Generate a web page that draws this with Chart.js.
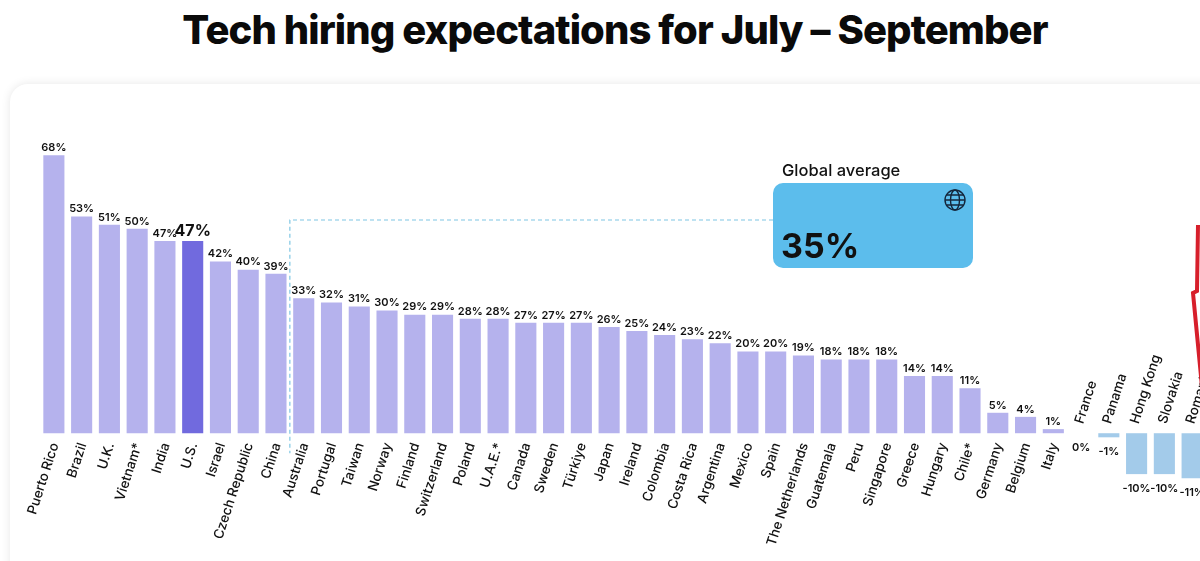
<!DOCTYPE html>
<html>
<head>
<meta charset="utf-8">
<script src="https://cdn.jsdelivr.net/npm/chart.js@4.4.1/dist/chart.umd.min.js"></script>
<style>
    html, body {
        margin: 0;
        padding: 0;
        width: 1200px;
        height: 561px;
        overflow: hidden;
        background: #ffffff;
        font-family: Inter, "Noto Sans", sans-serif;
    }
    h1 {
        position: absolute;
        top: 5px;
        left: 0;
        width: 1230px;
        margin: 0;
        text-align: center;
        font-size: 40px;
        font-weight: 800;
        letter-spacing: -0.9px;
        color: #0a0a0a;
    }
    .card {
        position: absolute;
        left: 10px;
        top: 84px;
        width: 1320px;
        height: 600px;
        background: #ffffff;
        border-radius: 18px;
        box-shadow: 0 0 10px rgba(0, 0, 0, 0.10);
    }
    .chart-wrap {
        position: absolute;
        left: 0;
        top: 85px;
        width: 1240px;
        height: 476px;
    }
</style>
</head>
<body>
<h1>Tech hiring expectations for July – September</h1>
<div class="card"></div>
<div class="chart-wrap"><canvas id="hiringChart"></canvas></div>

<script>
const countries = [
    'Puerto Rico', 'Brazil', 'U.K.', 'Vietnam*', 'India', 'U.S.', 'Israel', 'Czech Republic', 'China',
    'Australia', 'Portugal', 'Taiwan', 'Norway', 'Finland', 'Switzerland', 'Poland', 'U.A.E.*',
    'Canada', 'Sweden', 'Türkiye', 'Japan', 'Ireland', 'Colombia', 'Costa Rica', 'Argentina',
    'Mexico', 'Spain', 'The Netherlands', 'Guatemala', 'Peru', 'Singapore', 'Greece', 'Hungary',
    'Chile*', 'Germany', 'Belgium', 'Italy', 'France', 'Panama', 'Hong Kong', 'Slovakia', 'Romania'
];
const hiringValues = [
    68, 53, 51, 50, 47, 47, 42, 40, 39,
    33, 32, 31, 30, 29, 29, 28, 28,
    27, 27, 27, 26, 25, 24, 23, 22,
    20, 20, 19, 18, 18, 18, 14, 14,
    11, 5, 4, 1, 0, -1, -10, -10, -11
];
const globalAverage = 35;
const highlightCountry = 'U.S.';
const yMin = -20;
const yMax = 70;

const positiveColor = '#b5b2ed';
const highlightColor = '#716ade';
const negativeColor = '#a3cbea';

const barColors = countries.map((c, i) => {
    if (c === highlightCountry) return highlightColor;
    return hiringValues[i] < 0 ? negativeColor : positiveColor;
});

// labels, values and the global average box
const annotationPlugin = {
    id: 'annotations',
    afterDatasetsDraw(chart) {
        const ctx = chart.ctx;
        const xScale = chart.scales.x;
        const yScale = chart.scales.y;
        const zeroY = yScale.getPixelForValue(0);
        const meta = chart.getDatasetMeta(0);

        ctx.save();

        // dashed divider between above / below average
        const aboveAvg = hiringValues.filter(v => v > globalAverage).length;
        const divX = (xScale.getPixelForValue(aboveAvg - 1) + xScale.getPixelForValue(aboveAvg)) / 2;
        const boxLeft = 773, boxTop = 98, boxW = 200, boxH = 85;
        const lineY = 135;
        ctx.setLineDash([4, 3]);
        ctx.strokeStyle = '#7fc6e3';
        ctx.lineWidth = 1.2;
        ctx.beginPath();
        ctx.moveTo(boxLeft, lineY);
        ctx.lineTo(divX, lineY);
        ctx.lineTo(divX, zeroY + 20);
        ctx.stroke();
        ctx.setLineDash([]);

        // global average box
        ctx.fillStyle = '#5cbdec';
        ctx.beginPath();
        ctx.roundRect(boxLeft, boxTop, boxW, boxH, 10);
        ctx.fill();

        ctx.fillStyle = '#111111';
        ctx.textAlign = 'left';
        ctx.textBaseline = 'alphabetic';
        ctx.font = '500 16.5px Inter';
        ctx.fillText('Global average', boxLeft + 9, boxTop - 7);
        ctx.font = '700 34px Inter';
        ctx.fillText(globalAverage + '%', boxLeft + 8, boxTop + 75);

        // globe icon
        const gx = boxLeft + boxW - 18, gy = boxTop + 17, gr = 10;
        ctx.strokeStyle = '#15263b';
        ctx.lineWidth = 1.4;
        ctx.beginPath();
        ctx.arc(gx, gy, gr, 0, Math.PI * 2);
        ctx.stroke();
        ctx.beginPath();
        ctx.ellipse(gx, gy, gr * 0.45, gr, 0, 0, Math.PI * 2);
        ctx.stroke();
        ctx.beginPath();
        ctx.moveTo(gx - gr, gy);
        ctx.lineTo(gx + gr, gy);
        ctx.moveTo(gx - gr * 0.87, gy - gr * 0.5);
        ctx.lineTo(gx + gr * 0.87, gy - gr * 0.5);
        ctx.moveTo(gx - gr * 0.87, gy + gr * 0.5);
        ctx.lineTo(gx + gr * 0.87, gy + gr * 0.5);
        ctx.stroke();

        // value labels and country names
        meta.data.forEach((bar, i) => {
            const v = hiringValues[i];
            const x = bar.x;
            ctx.fillStyle = '#111111';
            ctx.textAlign = 'center';

            if (countries[i] === highlightCountry) {
                ctx.font = '700 16px Inter';
            } else {
                ctx.font = '600 11px Inter';
            }
            if (v > 0) {
                ctx.textBaseline = 'bottom';
                ctx.fillText(v + '%', x, bar.y - 2);
            } else {
                ctx.textBaseline = 'top';
                ctx.fillText(v + '%', x, (v < 0 ? bar.y : zeroY) + 9);
            }

            ctx.font = '500 13.5px Inter';
            ctx.textBaseline = 'middle';
            ctx.save();
            if (v > 0) {
                ctx.translate(x + 1, zeroY + 10);
                ctx.rotate(-72 * Math.PI / 180);
                ctx.textAlign = 'right';
            } else {
                ctx.translate(x - 2, zeroY - 10);
                ctx.rotate(-72 * Math.PI / 180);
                ctx.textAlign = 'left';
            }
            ctx.fillText(countries[i], 0, 0);
            ctx.restore();
        });

        // red arrow annotation at the right edge
        ctx.strokeStyle = '#d71f2b';
        ctx.lineWidth = 4;
        ctx.lineJoin = 'miter';
        ctx.beginPath();
        ctx.moveTo(1198, 140);
        ctx.lineTo(1197, 206);
        ctx.lineTo(1193, 208);
        ctx.lineTo(1203, 312);
        ctx.stroke();

        ctx.restore();
    }
};

const ctx = document.getElementById('hiringChart').getContext('2d');
new Chart(ctx, {
    type: 'bar',
    data: {
        labels: countries,
        datasets: [{
            label: 'Tech hiring expectations',
            data: hiringValues,
            backgroundColor: barColors,
            borderWidth: 0,
            barPercentage: 0.76,
            categoryPercentage: 1.0
        }]
    },
    options: {
        responsive: true,
        maintainAspectRatio: false,
        animation: false,
        layout: {
            padding: { left: 40, right: 34, top: 62, bottom: 46 }
        },
        plugins: {
            legend: { display: false },
            tooltip: { enabled: false }
        },
        scales: {
            x: {
                display: false
            },
            y: {
                display: false,
                min: yMin,
                max: yMax
            }
        }
    },
    plugins: [annotationPlugin]
});
</script>
</body>
</html>
